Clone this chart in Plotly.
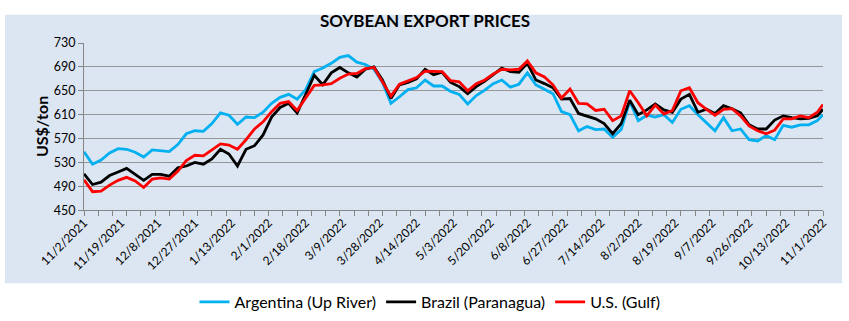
import numpy as np
import plotly.graph_objects as go

START = "2021-11-02"

# business-day index (from 11/2/2021) of each sampled point
day_index = list(range(0, 259, 3)) + [260]

argentina = [548, 527, 534, 546, 553, 552, 547, 539, 551, 549, 548, 560, 578, 583, 582,
             595, 613, 609, 594, 606, 605, 614, 629, 639, 644, 636, 652, 682, 688, 696,
             706, 709, 698, 694, 686, 664, 629, 640, 652, 655, 668, 658, 658, 649, 644,
             628, 642, 651, 662, 668, 656, 661, 680, 660, 653, 645, 615, 610, 583, 590,
             585, 586, 572, 585, 632, 600, 609, 606, 610, 597, 619, 625, 610, 597, 583,
             605, 583, 586, 568, 566, 575, 568, 592, 589, 593, 593, 600, 610]

brazil = [511, 493, 497, 508, 514, 520, 510, 500, 510, 510, 507, 521, 524, 530, 527,
          536, 552, 544, 524, 552, 558, 576, 606, 622, 629, 613, 644, 676, 660, 680,
          689, 680, 673, 686, 690, 668, 637, 660, 664, 670, 686, 677, 681, 664, 657,
          645, 657, 666, 677, 688, 682, 681, 696, 668, 662, 655, 636, 637, 612, 607,
          603, 595, 578, 595, 634, 610, 618, 628, 618, 614, 636, 644, 614, 619, 612,
          625, 620, 613, 593, 586, 586, 601, 608, 605, 603, 604, 608, 619]

us_gulf = [501, 481, 482, 492, 500, 505, 499, 488, 502, 504, 502, 515, 533, 542, 541,
           551, 561, 559, 552, 568, 586, 598, 615, 629, 632, 617, 637, 659, 660, 662,
           671, 678, 679, 687, 689, 664, 641, 661, 666, 672, 683, 683, 682, 667, 665,
           650, 662, 668, 678, 686, 685, 686, 700, 680, 673, 660, 638, 653, 629, 628,
           617, 619, 600, 608, 650, 630, 608, 626, 611, 617, 650, 655, 630, 619, 609,
           619, 620, 608, 591, 583, 578, 584, 603, 603, 608, 605, 614, 627]

tick_labels = ["11/2/2021", "11/19/2021", "12/8/2021", "12/27/2021", "1/13/2022",
               "2/1/2022", "2/18/2022", "3/9/2022", "3/28/2022", "4/14/2022",
               "5/3/2022", "5/20/2022", "6/8/2022", "6/27/2022", "7/14/2022",
               "8/2/2022", "8/19/2022", "9/7/2022", "9/26/2022", "10/13/2022",
               "11/1/2022"]


def to_iso(s):
    m, d, y = s.split("/")
    return f"{y}-{int(m):02d}-{int(d):02d}"


tick_pos = [int(np.busday_count(START, to_iso(s))) for s in tick_labels]

series = [
    ("Argentina (Up River)", argentina, "#00b0f0"),
    ("Brazil (Paranagua)", brazil, "#000000"),
    ("U.S. (Gulf)", us_gulf, "#ff0000"),
]

fig = go.Figure()
for name, vals, col in series:
    fig.add_trace(go.Scatter(x=day_index, y=vals, mode="lines", name=name,
                             line=dict(color=col, width=2.8)))

W, H = 849, 321
L, R, T, B = 84, 26, 43, 88
pw, ph = W - L - R, H - T - B


def px_x(p):
    return (p - L) / pw


def px_y(p):
    return (H - B - p) / ph


fig.add_shape(type="rect", xref="paper", yref="paper", layer="below",
              x0=px_x(5), x1=px_x(842), y0=px_y(316), y1=px_y(11),
              fillcolor="#dce6f2", line=dict(width=0))

FONT = "Lato, 'Open Sans', sans-serif"

fig.update_layout(
    width=W, height=H,
    margin=dict(l=L, r=R, t=T, b=B),
    paper_bgcolor="white",
    plot_bgcolor="white",
    font=dict(family=FONT, color="#000000"),
    title=dict(text="<b>SOYBEAN EXPORT PRICES</b>", x=425 / W, xref="container",
               xanchor="center",
               y=1 - 21 / H, yref="container", yanchor="middle",
               font=dict(size=17, color="#000000", family=FONT)),
    showlegend=True,
    legend=dict(orientation="h", xref="container", x=430 / W, xanchor="center",
                yref="container", y=1 - 302 / H, yanchor="middle",
                font=dict(size=16, family=FONT), bgcolor="rgba(0,0,0,0)",
                itemwidth=30, tracegroupgap=0),
    xaxis=dict(range=[0, 260], tickmode="array", tickvals=tick_pos, ticktext=tick_labels,
               tickangle=-45, ticks="", showgrid=False, zeroline=False,
               showline=True, linecolor="#868686", linewidth=1,
               tickfont=dict(size=12, family=FONT, color="#000000"),
               minor=dict(ticks="outside", tickmode="linear", tick0=0, dtick=5,
                          ticklen=5, tickcolor="#868686", showgrid=False)),
    yaxis=dict(range=[450, 730], tickmode="linear", tick0=450, dtick=40,
               showgrid=True, gridcolor="#979797", gridwidth=1.2, zeroline=False,
               showline=True, linecolor="#868686", linewidth=1,
               ticks="outside", ticklen=5, tickcolor="#868686",
               tickfont=dict(size=12.5, family=FONT, color="#000000")),
)

fig.add_annotation(text="<b>US$/ton</b>", xref="paper", yref="paper",
                   x=px_x(30), y=0.5, textangle=-90, showarrow=False,
                   font=dict(size=16, family=FONT, color="#000000"))

fig.write_html("out.html")
